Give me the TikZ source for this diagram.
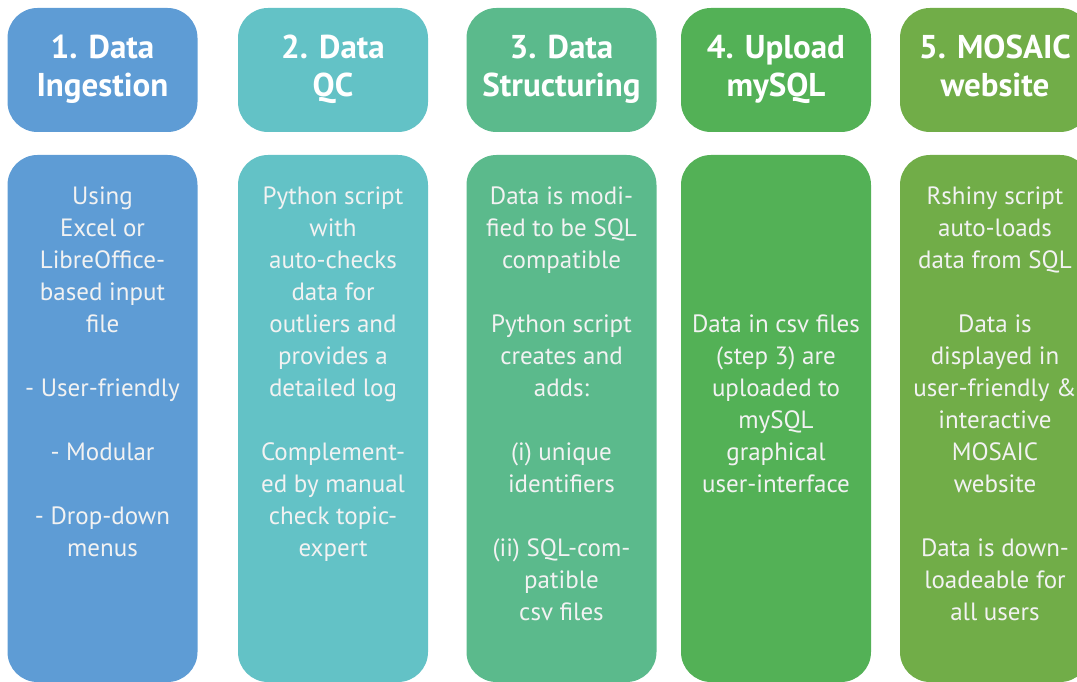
\documentclass[tikz,border=0pt]{standalone}
\usepackage{fontspec}
\setmainfont{PT Sans}
\usetikzlibrary{positioning}
\definecolor{stepone}{HTML}{5E9CD5}
\definecolor{steptwo}{HTML}{63C2C6}
\definecolor{stepthree}{HTML}{5BBA8C}
\definecolor{stepfour}{HTML}{53B156}
\definecolor{stepfive}{HTML}{71AD48}
\tikzset{steptitle/.style={rounded corners=30pt,minimum width=190pt,minimum height=124pt,
    inner sep=0pt,text=white,align=center,text depth=8pt,font=\bfseries\fontsize{33}{38}\selectfont},
  stepbody/.style={rounded corners=30pt,minimum width=190pt,minimum height=527pt,inner sep=0pt},
  steptext/.style={text=white!95!black,align=center,inner sep=0pt,
    font=\fontsize{25}{32}\selectfont}}

\begin{document}
\begin{tikzpicture}[x=1pt,y=1pt]
  \path[use as bounding box] (0,0) rectangle (1077,682);
  \clip (0,0) rectangle (1077,682);
  \foreach \i/\x/\col/\title in {1/102.5/stepone/{1. Data\\Ingestion},
      2/333/steptwo/{2. Data\\QC},3/561.5/stepthree/{3. Data\\Structuring},
      4/776/stepfour/{4. Upload\\mySQL},5/995/stepfive/{5. MOSAIC\\website}} {
    \node[steptitle,fill=\col] (title\i) at (\x,612) {\title};
    \node[stepbody,fill=\col] (body\i) at (\x,263.5) {};
  }
  \node[steptext,below=32pt of body1.north] (text1) {Using\\Excel or\\LibreOffice-\\based input\\file\\[32pt]
    - User-friendly\\[32pt]- Modular\\[32pt]- Drop-down\\menus};
  \node[steptext,below=32pt of body2.north] (text2) {Python script\\with\\auto-checks\\data for\\outliers and\\provides a\\detailed log\\[32pt]
    Complement-\\ed by manual\\check topic-\\expert};
  \node[steptext,below=32pt of body3.north] (text3) {Data is modi-\\fied to be SQL\\compatible\\[32pt]
    Python script\\creates and\\adds:\\[32pt](i) unique\\identifiers\\[32pt](ii) SQL-com-\\patible\\csv files};
  \node[steptext,below=160pt of body4.north] (text4) {Data in csv files\\(step 3) are\\uploaded to\\mySQL\\graphical\\user-interface};
  \node[steptext,below=32pt of body5.north] (text5) {Rshiny script\\auto-loads\\data from SQL\\[32pt]
    Data is\\displayed in\\user-friendly \&\\interactive\\MOSAIC\\website\\[32pt]
    Data is down-\\loadeable for\\all users};
\end{tikzpicture}
\end{document}
